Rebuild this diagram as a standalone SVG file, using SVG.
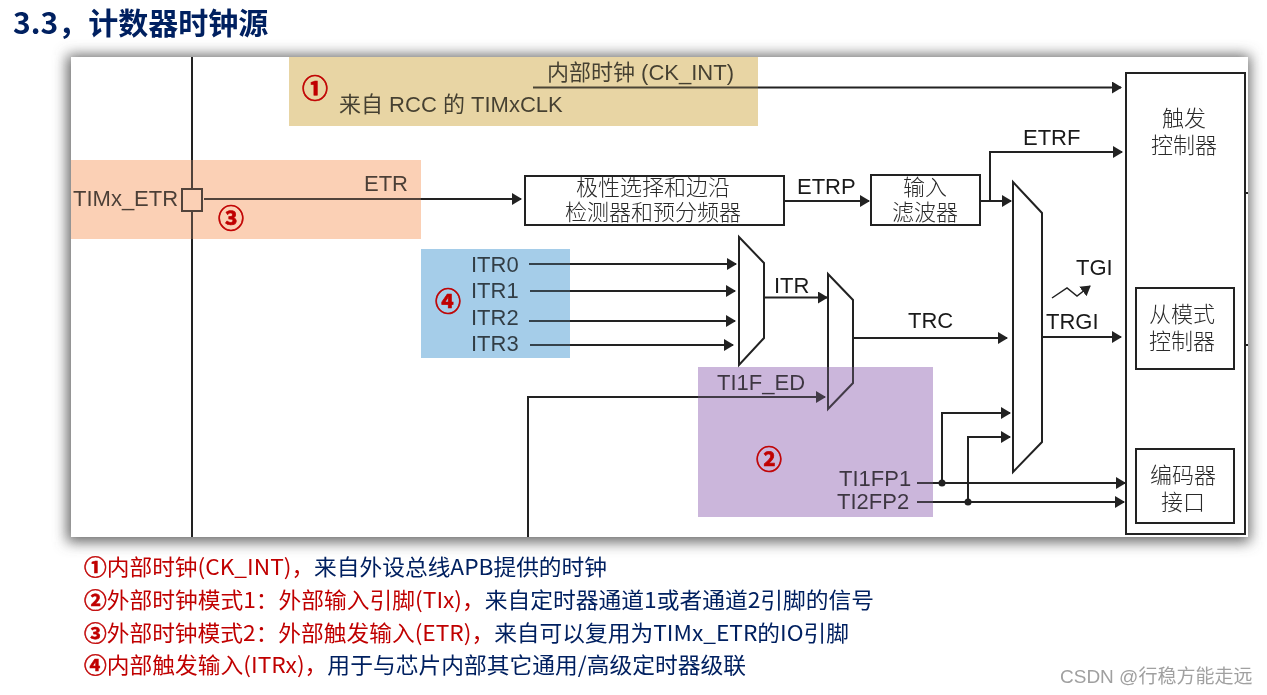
<svg xmlns="http://www.w3.org/2000/svg" width="1267" height="695" viewBox="0 0 1267 695">
<style>
text{font-family:"Liberation Sans","Noto Sans CJK SC",sans-serif;fill:#1a1a1a;font-size:22px}
.c{text-anchor:middle;font-family:"Noto Sans CJK SC",sans-serif;font-weight:300;font-size:22px;fill:#2a2a2a}
.w{fill:none;stroke:#222;stroke-width:2}
.b{fill:#fff;stroke:#222;stroke-width:2}
.a{marker-end:url(#ah)}
.m{mix-blend-mode:multiply}
.o{fill-opacity:.22}
.n{font-family:"Noto Sans CJK SC",sans-serif;font-weight:700;font-size:26px;fill:#c00000;stroke:#c00000;stroke-width:.7;text-anchor:middle}
.l{font-family:"Noto Sans CJK SC",sans-serif;font-size:22px;fill:#002060}
.r{fill:#c00000}
.d{font-weight:700;stroke:#c00000;stroke-width:.5}
</style>
<defs>
<marker id="ah" viewBox="0 0 10 12" markerUnits="userSpaceOnUse" markerWidth="10" markerHeight="12" refX="9" refY="6" orient="auto"><path d="M0 0L10 6L0 12Z" fill="#222"/></marker>
<filter id="sh" x="-5%" y="-10%" width="110%" height="120%"><feGaussianBlur stdDeviation="7"/></filter>
</defs>
<rect width="1267" height="695" fill="#fff"/>
<text id="title" x="13" y="34" style="font-family:'Noto Sans CJK SC',sans-serif;font-weight:700;font-size:30px;fill:#002060">3.3，计数器时钟源</text>
<g id="panel">
<rect x="67" y="55" width="1183" height="487" fill="#666" filter="url(#sh)"/>
<rect x="71" y="57" width="1177" height="480" fill="#fff"/>
</g>
<g id="connectors">
<path class="w" d="M192 57V189M192 211V537"/>
<path class="w a" d="M533 87.500H1121"/>
<path class="w a" d="M204 199H521"/>
<path class="w a" d="M784 201H869"/>
<path class="w a" d="M980 201H1011"/>
<path class="w a" d="M990 201V152H1122"/>
<path class="w a" d="M529 264H736"/>
<path class="w a" d="M530 291H735"/>
<path class="w a" d="M529 321H735"/>
<path class="w a" d="M530 345H733"/>
<path class="w a" d="M764 297.500H827"/>
<path class="w a" d="M853 338H1007"/>
<path class="w a" d="M1042 337H1121"/>
<path class="w a" d="M528 537V397H825"/>
<path class="w a" d="M917 483H1125"/>
<path class="w a" d="M917 502H1124"/>
<path class="w a" d="M942 483V413H1010"/>
<path class="w a" d="M968 502V437H1010"/>
<path class="w a" style="stroke-width:1.500" d="M1052 298L1067 288L1077 296L1090 286"/>
<path class="w" d="M1244 193H1248M1234 345H1248"/>
<circle cx="942" cy="483" r="3.500" fill="#222"/>
<circle cx="968" cy="502" r="3.500" fill="#222"/>
</g>
<g id="trigger-controller">
<rect class="b" x="1126" y="73" width="119" height="461"/>
<text class="c" x="1184" y="126">触发</text>
<text class="c" x="1184" y="153">控制器</text>
</g>
<g id="slave-controller">
<rect class="b" x="1136" y="288" width="98" height="81"/>
<text class="c" x="1182" y="322">从模式</text>
<text class="c" x="1182" y="349">控制器</text>
</g>
<g id="encoder">
<rect class="b" x="1136" y="449" width="98" height="74"/>
<text class="c" x="1183" y="483">编码器</text>
<text class="c" x="1183" y="510">接口</text>
</g>
<g id="polarity">
<rect class="b" x="525" y="176" width="259" height="49"/>
<text class="c" x="653" y="195">极性选择和边沿</text>
<text class="c" x="653" y="220">检测器和预分频器</text>
</g>
<g id="filter">
<rect class="b" x="871" y="175" width="109" height="50"/>
<text class="c" x="925" y="195">输入</text>
<text class="c" x="925" y="220">滤波器</text>
</g>
<g id="mux-itr"><path class="b" d="M739 237L764 263V338L739 365Z"/></g>
<g id="mux-trc"><path class="b" d="M828 274L853 300V383L828 409Z"/></g>
<g id="mux-main"><path class="b" d="M1013 182L1042 213V442L1013 472Z"/></g>
<g id="pin"><rect x="182" y="189" width="20" height="22" fill="#fff" stroke="#222" stroke-width="2"/></g>
<g id="labels">
<text x="547" y="80">内部时钟 (CK_INT)</text>
<text x="339" y="112">来自 RCC 的 TIMxCLK</text>
<text x="73" y="206">TIMx_ETR</text>
<text x="364" y="191">ETR</text>
<text x="797" y="194">ETRP</text>
<text x="1023" y="145">ETRF</text>
<text x="1076" y="275">TGI</text>
<text x="1046" y="329">TRGI</text>
<text x="908" y="328">TRC</text>
<text x="774" y="293">ITR</text>
<text x="471" y="272">ITR0</text>
<text x="471" y="298">ITR1</text>
<text x="471" y="325">ITR2</text>
<text x="471" y="351">ITR3</text>
<text x="717" y="390">TI1F_ED</text>
<text x="839" y="486">TI1FP1</text>
<text x="837" y="509">TI2FP2</text>
</g>
<g id="highlights">
<rect class="m" x="289" y="57" width="469" height="69" fill="#e8d5a4"/>
<rect class="m" x="71" y="160" width="350" height="79" fill="#fbd0b5"/>
<rect class="m" x="421" y="249" width="149" height="109" fill="#a6cde9"/>
<rect class="m" x="698" y="367" width="235" height="150" fill="#cbb6dc"/>
<rect class="o" x="289" y="57" width="469" height="69" fill="#e8d5a4"/>
<rect class="o" x="71" y="160" width="350" height="79" fill="#fbd0b5"/>
<rect class="o" x="421" y="249" width="149" height="109" fill="#a6cde9"/>
<rect class="o" x="698" y="367" width="235" height="150" fill="#cbb6dc"/>
</g>
<g id="markers">
<text class="n" x="315" y="98">①</text>
<text class="n" x="231" y="228">③</text>
<text class="n" x="448" y="311">④</text>
<text class="n" x="769" y="469">②</text>
</g>
<g id="notes">
<text class="l" x="84" y="575" textLength="523" lengthAdjust="spacingAndGlyphs"><tspan class="r d">①</tspan><tspan class="r">内部时钟(CK_INT)，</tspan>来自外设总线APB提供的时钟</text>
<text class="l" x="84" y="608" textLength="790" lengthAdjust="spacingAndGlyphs"><tspan class="r d">②</tspan><tspan class="r">外部时钟模式1：外部输入引脚(TIx)，</tspan>来自定时器通道1或者通道2引脚的信号</text>
<text class="l" x="84" y="641" textLength="765" lengthAdjust="spacingAndGlyphs"><tspan class="r d">③</tspan><tspan class="r">外部时钟模式2：外部触发输入(ETR)，</tspan>来自可以复用为TIMx_ETR的IO引脚</text>
<text class="l" x="84" y="673" textLength="662" lengthAdjust="spacingAndGlyphs"><tspan class="r d">④</tspan><tspan class="r">内部触发输入(ITRx)，</tspan>用于与芯片内部其它通用/高级定时器级联</text>
</g>
<text id="watermark" x="1060" y="683" style="font-size:19px;fill:#a0a0a0;font-family:'Liberation Sans','Noto Sans CJK SC',sans-serif">CSDN @行稳方能走远</text>
</svg>
